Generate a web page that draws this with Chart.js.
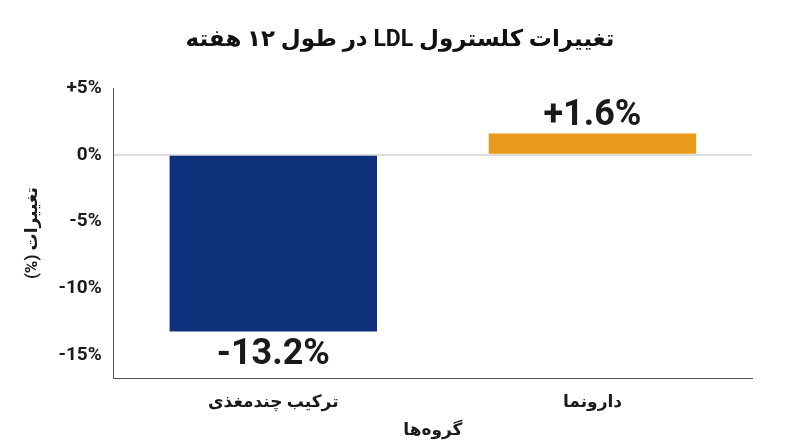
<!DOCTYPE html>
<html>
<head>
<meta charset="utf-8">
<script src="https://cdn.jsdelivr.net/npm/chart.js@4/dist/chart.umd.min.js"></script>
<style>
  html, body { margin: 0; padding: 0; background: #fff; }
  #wrap { width: 800px; height: 447px; }
</style>
</head>
<body>
<div id="wrap"><canvas id="ldlChart" width="800" height="447"></canvas></div>
<script>
const groups = ['ترکیب چندمغذی', 'دارونما'];
const ldlChange = [-13.2, 1.6];
const barColors = ['#0f307a', '#e89a1d'];
const yTicks = [5, 0, -5, -10, -15];
const chartTitle = 'تغییرات کلسترول LDL در طول ۱۲ هفته';

const FONT = "Roboto, 'DejaVu Sans', sans-serif";
const rtl = (s) => '\u202B' + s + '\u202C';

// title centred on the whole canvas, and value labels at the bar ends
const valueLabels = {
  id: 'valueLabels',
  afterDraw(chart) {
    const ctx = chart.ctx;
    ctx.save();
    ctx.font = 'bold 23px ' + FONT;
    ctx.fillStyle = '#111';
    ctx.textAlign = 'center';
    ctx.textBaseline = 'middle';
    ctx.fillText(rtl(chartTitle), chart.width / 2, 40);

    const meta = chart.getDatasetMeta(0);
    ctx.font = 'bold 36px ' + FONT;
    ctx.fillStyle = '#1a1a1a';
    meta.data.forEach((bar, i) => {
      const v = ldlChange[i];
      const txt = (v > 0 ? '+' : '') + v.toFixed(1) + '%';
      if (v >= 0) {
        ctx.textBaseline = 'alphabetic';
        ctx.fillText(txt, bar.x, bar.y - 8);
      } else {
        ctx.textBaseline = 'top';
        ctx.fillText(txt, bar.x, bar.y + 6);
      }
    });
    ctx.restore();
  }
};

new Chart(document.getElementById('ldlChart').getContext('2d'), {
  type: 'bar',
  data: {
    labels: groups.map(rtl),
    datasets: [{ data: ldlChange, backgroundColor: barColors, borderWidth: 0, categoryPercentage: 0.65, barPercentage: 1 }]
  },
  options: {
    responsive: false,
    animation: false,
    layout: { padding: { left: 21, right: 48, top: 88, bottom: 2 } },
    plugins: {
      legend: { display: false },
      tooltip: { enabled: false },
      title: { display: false }
    },
    scales: {
      x: {
        grid: { display: false },
        border: { color: '#555', width: 1 },
        ticks: { color: '#1a1a1a', font: { family: FONT, size: 17, weight: 'bold' }, padding: 6 },
        title: { display: true, text: rtl('گروه‌ها'), color: '#1a1a1a', font: { family: FONT, size: 17, weight: 'bold' }, padding: { top: 2 } }
      },
      y: {
        min: -16.7,
        max: 5,
        afterBuildTicks(axis) { axis.ticks = yTicks.map(v => ({ value: v })); },
        grid: {
          drawTicks: false,
          color: (c) => (c.tick && c.tick.value === 0 ? '#dddddd' : 'rgba(0,0,0,0)'),
          lineWidth: 2
        },
        border: { color: '#555', width: 1 },
        ticks: {
          color: '#1a1a1a',
          font: { family: FONT, size: 19, weight: 'bold' },
          padding: 12,
          callback: (v) => (v > 0 ? '+' : '') + v + '%'
        },
        title: { display: true, text: rtl('تغییرات (%)'), color: '#1a1a1a', font: { family: FONT, size: 17, weight: 'bold' }, padding: { top: 2, bottom: 3 } }
      }
    }
  },
  plugins: [valueLabels]
});
</script>
</body>
</html>
